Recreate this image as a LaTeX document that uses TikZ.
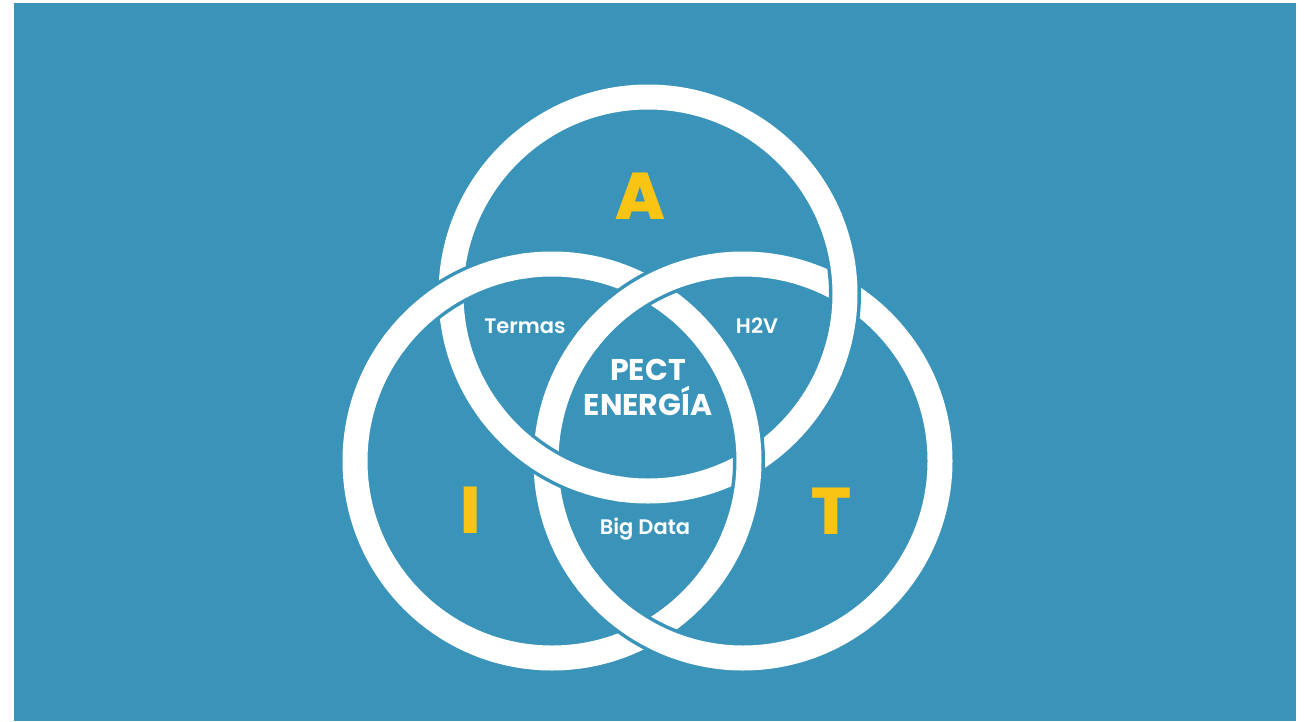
\documentclass[tikz,border=0pt]{standalone}
\usepackage{fontspec}
\setmainfont{Poppins}
\usetikzlibrary{positioning}

% font faces, with fall-backs to the plain family
\IfFontExistsTF{Poppins SemiBold}
	{\newfontfamily\labelfont{Poppins SemiBold}}
	{\newfontfamily\labelfont{Poppins}}
\IfFontExistsTF{Poppins Bold}
	{\newfontfamily\corefont{Poppins Bold}}
	{\newfontfamily\corefont{Poppins}[FakeBold=1.5]}
\IfFontExistsTF{Poppins ExtraBold}
	{\newfontfamily\letterfont{Poppins ExtraBold}}
	{\newfontfamily\letterfont{Poppins}[FakeBold=2.5]}

\definecolor{pectblue}{RGB}{58,148,185}
\definecolor{pectgold}{RGB}{250,196,18}

% ring radius (centre line of the band)
\newcommand{\ringr}{197}

\tikzset{
	ring/.style={draw=white, line width=25pt},
	ringgap/.style={draw=pectblue, line width=32pt},
	bigletter/.style={text=pectgold, font=\fontsize{66}{66}\letterfont},
	zonelabel/.style={text=white, font=\fontsize{21}{22}\labelfont},
	corelabel/.style={text=white, font=\fontsize{30}{35}\corefont, align=center}
}

% redraw a piece of a ring so that it passes over the other one
\newcommand{\overarc}[2]{%
	\draw[ringgap] (#1) ++(#2-22:\ringr) arc[start angle=#2-22, end angle=#2+22, radius=\ringr];
	\draw[ring] (#1) ++(#2-23:\ringr) arc[start angle=#2-23, end angle=#2+23, radius=\ringr];
}

\begin{document}
\begin{tikzpicture}[x=1pt, y=-1pt]
	\useasboundingbox (0,0) rectangle (1309,721);
	\fill[white] (0,0) rectangle (1309,721);
	\fill[pectblue] (14,3) rectangle (1296,721);

	\coordinate (cA) at (648,294);
	\coordinate (cI) at (552,461);
	\coordinate (cT) at (743,461);

	% the three rings
	\draw[ring] (cA) circle[radius=\ringr];
	\draw[ring] (cI) circle[radius=\ringr];
	\draw[ring] (cT) circle[radius=\ringr];

	% crossings: I over A, A over T, T over I
	\overarc{cI}{-120.5}
	\overarc{cI}{0}
	\overarc{cA}{0}
	\overarc{cA}{120.5}
	\overarc{cT}{-119.5}
	\overarc{cT}{119.5}

	% letters
	\node[bigletter] (lA) at (640,196) {A};
	\node[bigletter] (lI) at (471,510) {I};
	\node[bigletter] (lT) at (831,511) {T};

	% overlaps
	\node[zonelabel] (termas) at (525,326) {Termas};
	\node[zonelabel] (h2v) at (757,326) {H2V};
	\node[zonelabel] (bigdata) at (645,529) {Big Data};
	\node[corelabel] (core) at (648,387) {PECT\\ENERGÍA};
\end{tikzpicture}
\end{document}
